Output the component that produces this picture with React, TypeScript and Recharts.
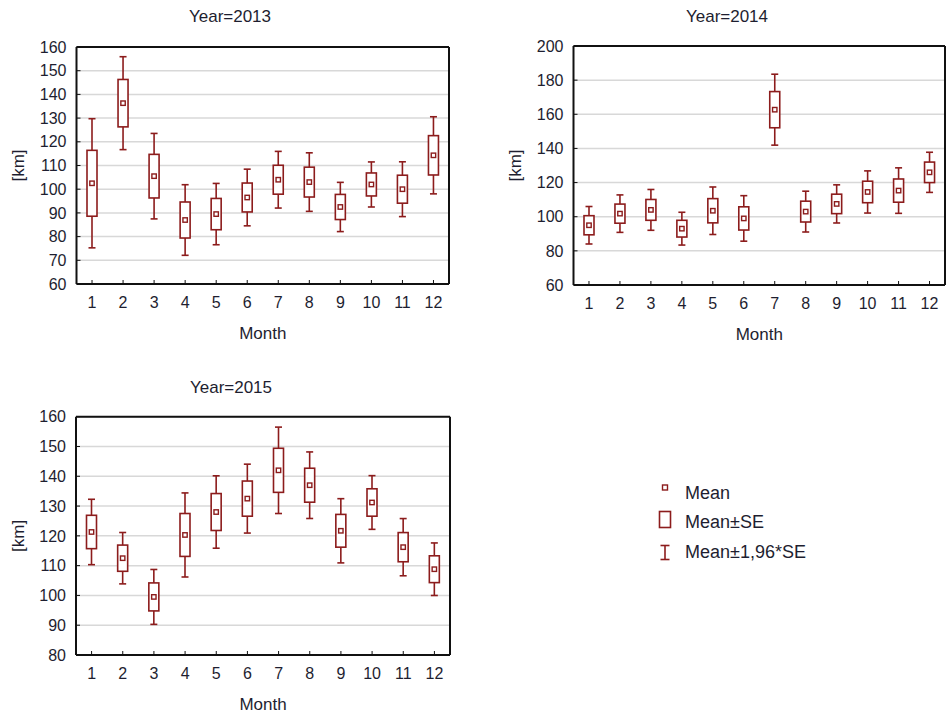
import React from 'react';
import { ComposedChart, Bar, XAxis, YAxis, CartesianGrid, Legend } from 'recharts';

const months = ['1', '2', '3', '4', '5', '6', '7', '8', '9', '10', '11', '12'];

const mean2013 = [102.5, 136.3, 105.5, 87, 89.5, 96.5, 104, 103, 92.5, 102, 100, 114.3];
const se2013 = [13.9, 10, 9.2, 7.6, 6.6, 6.1, 6.1, 6.3, 5.3, 4.85, 5.9, 8.3];

const mean2014 = [95, 101.8, 104, 93, 103.5, 99, 162.7, 103, 107.5, 114.5, 115.3, 126];
const se2014 = [5.6, 5.6, 6.1, 4.9, 7.1, 6.8, 10.6, 6.1, 5.7, 6.3, 6.8, 6.0];

const mean2015 = [121.3, 112.5, 99.5, 120.3, 128, 132.5, 142, 137, 121.7, 131.2, 116.2, 108.8];
const se2015 = [5.6, 4.4, 4.7, 7.2, 6.2, 5.9, 7.4, 5.7, 5.5, 4.6, 4.9, 4.5];

const ticks2013 = [60, 70, 80, 90, 100, 110, 120, 130, 140, 150, 160];
const ticks2014 = [60, 80, 100, 120, 140, 160, 180, 200];
const ticks2015 = [80, 90, 100, 110, 120, 130, 140, 150, 160];

const titles = ['Year=2013', 'Year=2014', 'Year=2015'];
const legendLabels = ['Mean', 'Mean±SE', 'Mean±1,96*SE'];

const RED = '#8c1c1c';
const TEXT = '#1e1e30';
const FONT = '"Liberation Sans", Arial, sans-serif';

function buildRows(means: number[], ses: number[]) {
  return months.map((m, i) => ({
    month: m,
    mean: means[i],
    se: ses[i],
    range: [means[i] - 1.96 * ses[i], means[i] + 1.96 * ses[i]],
  }));
}

const data2013 = buildRows(mean2013, se2013);
const data2014 = buildRows(mean2014, se2014);
const data2015 = buildRows(mean2015, se2015);

const BoxShape = (props: any) => {
  const { x, y, width, height, payload } = props;
  if (!payload || x == null || y == null) return null;
  const lo = payload.range[0];
  const hi = payload.range[1];
  const top = Math.min(y, y + height);
  const bot = Math.max(y, y + height);
  const toY = (v: number) => bot - ((v - lo) / (hi - lo)) * (bot - top);
  const cx = x + width / 2;
  const bTop = toY(payload.mean + payload.se);
  const bBot = toY(payload.mean - payload.se);
  const m = toY(payload.mean);
  const bw = 10;
  const cap = 3.5;
  const ms = 4.4;
  return (
    <g>
      <line x1={cx} x2={cx} y1={top} y2={bTop} stroke={RED} strokeWidth={1.6} />
      <line x1={cx} x2={cx} y1={bBot} y2={bot} stroke={RED} strokeWidth={1.6} />
      <line x1={cx - cap} x2={cx + cap} y1={top} y2={top} stroke={RED} strokeWidth={1.6} />
      <line x1={cx - cap} x2={cx + cap} y1={bot} y2={bot} stroke={RED} strokeWidth={1.6} />
      <rect x={cx - bw / 2} y={bTop} width={bw} height={bBot - bTop} fill="#fff" stroke={RED} strokeWidth={1.6} />
      <rect x={cx - ms / 2} y={m - ms / 2} width={ms} height={ms} fill="#fff" stroke={RED} strokeWidth={1.4} />
    </g>
  );
};

const LegendContent = () => (
  <div style={{ fontFamily: FONT, fontSize: 18, color: TEXT }}>
    {legendLabels.map((l, i) => (
      <div key={l} style={{ display: 'flex', alignItems: 'center', height: 29.5 }}>
        <svg width={30} height={29.5} style={{ display: 'block' }}>
          {i === 0 && (
            <rect x={7.5} y={6} width={5} height={5} fill="#fff" stroke={RED} strokeWidth={1.4} />
          )}
          {i === 1 && (
            <rect x={4.5} y={3.5} width={11} height={16} fill="#fff" stroke={RED} strokeWidth={1.6} />
          )}
          {i === 2 && (
            <g stroke={RED} strokeWidth={1.6}>
              <line x1={10} x2={10} y1={7.5} y2={21.5} />
              <line x1={5.5} x2={14.5} y1={7.5} y2={7.5} />
              <line x1={5.5} x2={14.5} y1={21.5} y2={21.5} />
            </g>
          )}
        </svg>
        <span style={{ lineHeight: '29.5px' }}>{l}</span>
      </div>
    ))}
  </div>
);

const axisLine = { stroke: '#111', strokeWidth: 2 };
const tickLine = { stroke: '#111', strokeWidth: 1 };
const tickStyle = { fill: TEXT, fontSize: 16, fontFamily: FONT };
const labelStyle = { fill: TEXT, fontSize: 17, fontFamily: FONT };

function renderPanel(
  data: any[],
  domain: [number, number],
  ticks: number[],
  width: number,
  height: number,
  margin: { top: number; right: number; bottom: number; left: number },
  withLegend: boolean
) {
  return (
    <ComposedChart width={width} height={height} data={data} margin={margin}>
      <CartesianGrid vertical={false} stroke="#d8d8d8" strokeWidth={1.5} />
      <XAxis
        dataKey="month"
        interval={0}
        height={55}
        tickSize={-4}
        tickMargin={17}
        axisLine={axisLine}
        tickLine={tickLine}
        tick={tickStyle}
        label={{ value: 'Month', position: 'insideBottom', offset: 0, style: labelStyle }}
      />
      <XAxis
        xAxisId="top"
        orientation="top"
        dataKey="month"
        interval={0}
        height={1}
        tickSize={-4}
        tick={false}
        axisLine={axisLine}
        tickLine={tickLine}
      />
      <YAxis
        type="number"
        domain={domain}
        ticks={ticks}
        interval={0}
        width={50}
        tickSize={-4}
        tickMargin={14}
        axisLine={axisLine}
        tickLine={tickLine}
        tick={tickStyle}
        label={{ value: '[km]', angle: -90, position: 'center', dx: -33.5, style: labelStyle }}
      />
      <YAxis
        yAxisId="r"
        orientation="right"
        type="number"
        domain={domain}
        ticks={ticks}
        interval={0}
        width={1}
        tickSize={-4}
        tick={false}
        axisLine={axisLine}
        tickLine={tickLine}
      />
      <Bar dataKey="range" barSize={11} shape={BoxShape} isAnimationActive={false} />
      {withLegend && (
        <Legend
          layout="vertical"
          align="center"
          verticalAlign="middle"
          content={<LegendContent />}
          wrapperStyle={{ left: 655, top: 108.75, width: 200, height: 90 }}
        />
      )}
    </ComposedChart>
  );
}

const titleStyle = (cx: number, cy: number): React.CSSProperties => ({
  position: 'absolute',
  left: cx - 100,
  top: cy - 10,
  width: 200,
  lineHeight: '20px',
  textAlign: 'center',
  fontSize: 17,
  fontFamily: FONT,
  color: TEXT,
});

export default function App() {
  return (
    <div
      style={{
        position: 'absolute',
        left: 0,
        top: 0,
        width: 947,
        height: 713,
        background: '#fff',
        fontFamily: FONT,
        overflow: 'hidden',
      }}
    >
      <div style={titleStyle(230, 17)}>{titles[0]}</div>
      <div style={titleStyle(727, 17)}>{titles[1]}</div>
      <div style={titleStyle(231, 388)}>{titles[2]}</div>

      <div style={{ position: 'absolute', left: 0, top: 0 }}>
        {renderPanel(data2013, [60, 160], ticks2013, 470, 350, { top: 46, right: 20, bottom: 11, left: 26.5 }, false)}
      </div>
      <div style={{ position: 'absolute', left: 470, top: 0 }}>
        {renderPanel(data2014, [60, 200], ticks2014, 477, 350, { top: 45, right: 1, bottom: 10, left: 53.5 }, false)}
      </div>
      <div style={{ position: 'absolute', left: 0, top: 370 }}>
        {renderPanel(data2015, [80, 160], ticks2015, 947, 343, { top: 45.7, right: 496, bottom: 3, left: 26 }, true)}
      </div>
    </div>
  );
}
